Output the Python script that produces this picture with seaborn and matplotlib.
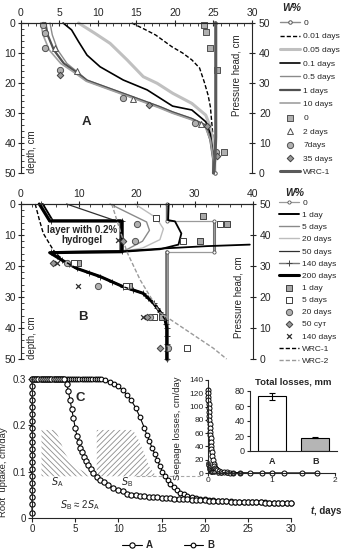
import matplotlib
matplotlib.use('Agg')
import matplotlib.pyplot as plt
import seaborn as sns
from matplotlib.ticker import MultipleLocator

sns.set_style('ticks')
plt.rcParams['font.family'] = ['Liberation Sans', 'DejaVu Sans']
plt.rcParams['font.size'] = 7
plt.rcParams['axes.linewidth'] = 0.8
plt.rcParams['hatch.linewidth'] = 0.6
plt.rcParams['legend.numpoints'] = 1
plt.rcParams['legend.scatterpoints'] = 1

# ---------------- Panel A data (W%, depth cm) ----------------
A_init_W = [25.2, 25.2]; A_init_d = [0, 50]
A_001_W = [14.4, 16.0, 17.5, 19.6, 21.0, 22.2, 23.2, 23.8, 24.3, 24.6, 24.9, 25.0, 25.0]
A_001_d = [0, 2, 4, 7.9, 10, 12.3, 15, 19.6, 24, 27.9, 36.7, 42, 50]
A_005_W = [7.5, 9.6, 11.6, 13.8, 15.9, 17.7, 19.7, 22.2, 24.0, 24.5, 25.0, 25.0]
A_005_d = [0, 3.4, 6.8, 12.3, 17.9, 20.1, 23.4, 26.8, 30.7, 34, 40, 50]
A_01_W = [5.5, 6.6, 7.5, 8.6, 10.3, 13.3, 16.4, 19.7, 22.2, 24.0, 24.6, 25.0, 25.0]
A_01_d = [0, 2.3, 6.2, 10.7, 14.6, 19, 22.3, 27.7, 29, 32.9, 37, 45, 50]
A_05_W = [3.8, 4.1, 4.8, 6.0, 7.3, 8.6, 11.6, 14.6, 18.1, 19.7, 22.2, 24, 24.6, 25, 25]
A_05_d = [0, 4, 9, 13.5, 16.2, 19, 21.8, 24.6, 27.9, 29.6, 31.8, 34, 39, 46, 50]
A_1_W = [3.2, 3.5, 4.3, 5.6, 7.2, 8.6, 11.6, 14.6, 18.1, 19.7, 22.2, 24, 24.6, 25, 25]
A_1_d = [0, 4, 9, 13.5, 16.4, 19.2, 22, 24.8, 28.1, 29.8, 32, 34.2, 39, 46, 50]
A_10_W = [2.6, 2.9, 3.7, 5.2, 7.0, 8.5, 11.5, 14.5, 18, 19.6, 22.1, 23.9, 24.6, 25, 25]
A_10_d = [0, 4, 9, 13.5, 16.6, 19.4, 22.2, 25, 28.3, 30, 32.2, 34.4, 39, 46, 50]
A_wrc_W = [25.3, 25.3, 25.2, 25.0]; A_wrc_h = [50, 12, 5, 0]
A_sq_W = [23.8, 24.0, 24.5, 25.4, 26.4]; A_sq_d = [0.7, 3.1, 8.2, 15.7, 43.1]
A_tri_W = [4.5, 7.3, 14.6, 23.4]; A_tri_d = [8.4, 15.9, 25.4, 33.7]
A_cir_W = [2.9, 3.2, 3.1, 5.1, 13.3, 22.6, 25.3]; A_cir_d = [0.7, 3.4, 8.4, 15.7, 25.1, 33.2, 42.9]
A_dia_W = [5.1, 16.6, 24.1, 25.5]; A_dia_d = [17.4, 27.3, 34.3, 44.2]

# ---------------- Panel B data ----------------
B_init_W = [25.2, 25.2, 33.3, 33.3, 25.2, 25.2]; B_init_d = [0, 5.5, 5.5, 15.4, 15.4, 50]
B_low_W = [7.1, 9.7, 13.7, 17.7, 21.1, 22.9, 24.0, 24.9, 25.2, 25.2]
B_low_d = [18.1, 20.8, 23.4, 26.7, 28.8, 32.0, 34.7, 37.4, 40, 50]
B_1_W = [3.8, 5.5, 17.2, 17.2, 5.3] + B_low_W
B_1_d = [0, 5.3, 5.3, 15.2, 15.5] + B_low_d
B_200_W = [3.2, 5.0, 17.5, 17.5, 5.0] + B_low_W
B_200_d = [0, 5.5, 5.5, 15.4, 15.7] + B_low_d
B_140_W = [3.5, 5.2, 17.4, 17.4, 5.2, 6.2, 7.1, 8.4, 9.7, 11.7, 13.7, 15.7, 17.7, 19.4, 21.1, 22.0,
           22.9, 23.5, 24.0, 24.5, 24.9, 25.1, 25.2, 25.2, 25.2, 25.2, 25.2]
B_140_d = [0, 5.4, 5.4, 15.3, 15.6, 16.8, 18.1, 19.5, 20.8, 22.1, 23.4, 25.0, 26.7, 27.8, 28.8, 30.4,
           32.0, 33.4, 34.7, 36.0, 37.4, 38.7, 40, 42.5, 45, 47.5, 50]
B_5_W = [15.4, 21.7, 22.2, 21.0, 18.5, 17.5]; B_5_d = [0, 5.8, 8.5, 12, 14.5, 15.3]
B_20_W = [19.7, 23.4, 24.6, 24.0, 21.0, 17.5]; B_20_d = [0, 4.5, 8.0, 11.5, 14.2, 15.3]
B_50_W = [7.9, 16.5, 17.3, 17.3]; B_50_d = [0, 5.5, 6, 15]
B_bulge_W = [25.5, 25.4, 26.6, 27.7, 27.2, 24.0, 17.7]; B_bulge_d = [0, 5.2, 5.6, 9.5, 13.1, 14.6, 15.4]
B_base_W = [17.1, 25.0, 32.0, 39.5]; B_base_d = [15.3, 14.3, 13.6, 13.1]
B_wrc1_W = [2.5, 3.2, 3.9, 5.6, 7.2, 9.7, 13.7, 17.7, 21.1, 22.9, 24.0, 24.9, 25.2, 25.2]
B_wrc1_h = [50, 45, 40.5, 35.2, 31.9, 29.2, 26.6, 23.3, 21.2, 18.0, 15.3, 12.6, 10, 0]
B_wrc2_W = [15.7, 18.3, 20.6, 24.0, 28.0, 33.2, 35.5]
B_wrc2_h = [50, 34.6, 25.5, 15.0, 10.0, 3.5, 0]
B_sqf_W = [31.4, 35.5, 30.9, 9.8, 18.7, 24.3]; B_sqf_d = [4, 6.5, 11.8, 19.1, 26.3, 36.3]
B_sqo_W = [23.4, 34.4, 28.0, 9.2, 18.2, 22.9, 28.6]; B_sqo_d = [4.5, 6.5, 11.8, 19.1, 26.3, 36.3, 46.5]
B_cir_W = [20.0, 19.7, 7.9, 13.4, 22.3, 25.4]; B_cir_d = [6.5, 11.8, 19.1, 26.3, 36.3, 46.5]
B_dia_W = [17.7, 5.6, 21.7, 24.0]; B_dia_d = [11.8, 19.1, 36.3, 46.5]
B_x_W = [16.8, 6.2, 9.9, 21.1]; B_x_d = [11.5, 19.1, 26.3, 36.3]

# ---------------- Panel C data ----------------
upA_t = [0, 0, 0, 0, 0, 0, 0, 0, 0, 0, 0, 0, 0, 0, 0, 0, 0, 0, 0, 0,
         0.25, 0.5, 0.75, 1.0, 1.25, 1.5, 1.75, 2.0, 2.25, 2.5, 2.75, 3.0, 3.25, 3.5, 3.75,
         4.0, 4.2, 4.4, 4.6, 4.8, 5.0, 5.2, 5.4, 5.6, 5.8, 6.0, 6.2, 6.5, 6.8, 7.1, 7.5, 7.9, 8.3,
         8.8, 9.4, 10.0, 10.5, 11.0, 11.5, 12.0, 12.5, 13.0, 13.5, 14.0, 14.5, 15.0, 15.5, 16.0,
         16.5, 17.0, 17.5, 18.0, 18.5, 19.0, 19.5, 20.0, 20.5, 21.0, 21.5, 22.0, 22.5, 23.0, 23.5,
         24.0, 24.5, 25.0, 25.5, 26.0, 26.5, 27.0, 27.5, 28.0, 28.5, 29.0, 29.5, 30.0]
upA_u = [0.01, 0.03, 0.045, 0.06, 0.075, 0.09, 0.105, 0.12, 0.135, 0.15, 0.165, 0.18, 0.195, 0.21,
         0.225, 0.24, 0.255, 0.27, 0.285, 0.3,
         0.3, 0.3, 0.3, 0.3, 0.3, 0.3, 0.3, 0.3, 0.3, 0.3, 0.3, 0.3, 0.3, 0.3, 0.3,
         0.29, 0.275, 0.255, 0.235, 0.215, 0.195, 0.178, 0.163, 0.152, 0.142, 0.132, 0.124, 0.115,
         0.105, 0.097, 0.089, 0.083, 0.077, 0.071, 0.065, 0.061, 0.058, 0.052, 0.050, 0.049, 0.048,
         0.047, 0.046, 0.045, 0.0445, 0.044, 0.0435, 0.043, 0.042, 0.041, 0.0405, 0.040, 0.0395,
         0.039, 0.0385, 0.038, 0.0375, 0.037, 0.0365, 0.036, 0.0358, 0.0355, 0.0352, 0.035, 0.0347,
         0.0343, 0.034, 0.0337, 0.0335, 0.0333, 0.033, 0.0327, 0.0325, 0.0322, 0.032, 0.032]
upB_t = [0, 0.25, 0.5, 0.75, 1.0, 1.25, 1.5, 1.75, 2.0, 2.25, 2.5, 2.75, 3.0, 3.25, 3.5, 3.75, 4.0,
         4.25, 4.5, 4.75, 5.0, 5.25, 5.5, 5.75, 6.0, 6.25, 6.5, 6.75, 7.0, 7.25, 7.5, 7.75, 8.0,
         8.5, 9.0, 9.5, 10.0, 10.5, 11.0, 11.5, 12.0, 12.5, 13.0, 13.3, 13.6, 13.9, 14.2, 14.5,
         14.8, 15.1, 15.4, 15.7, 16.0, 16.4, 16.8, 17.2, 17.6, 18.0, 18.5, 19.0, 19.5, 20.0, 20.5,
         21.0, 21.5, 22.0, 22.5, 23.0, 23.5, 24.0, 24.5, 25.0, 25.5, 26.0, 26.5, 27.0, 27.5, 28.0,
         28.5, 29.0, 29.5, 30.0]
upB_u = [0.3, 0.3, 0.3, 0.3, 0.3, 0.3, 0.3, 0.3, 0.3, 0.3, 0.3, 0.3, 0.3, 0.3, 0.3, 0.3, 0.3,
         0.3, 0.3, 0.3, 0.3, 0.3, 0.3, 0.3, 0.3, 0.3, 0.3, 0.3, 0.3, 0.3, 0.3, 0.3, 0.299,
         0.297, 0.294, 0.29, 0.284, 0.276, 0.266, 0.254, 0.238, 0.218, 0.195, 0.18, 0.166, 0.152,
         0.139, 0.126, 0.113, 0.1, 0.09, 0.081, 0.074, 0.066, 0.06, 0.055, 0.051, 0.048, 0.045,
         0.043, 0.041, 0.040, 0.039, 0.038, 0.0375, 0.037, 0.0365, 0.036, 0.0355, 0.035, 0.0347,
         0.0345, 0.0342, 0.034, 0.0337, 0.0335, 0.0332, 0.033, 0.033, 0.0325, 0.0322, 0.032]
SA_t = [1.1, 2.7, 3.2, 3.8, 4.5, 5.5, 7.1]
SA_top = [0.19, 0.19, 0.17, 0.14, 0.12, 0.105, 0.09]
SB_t = [7.5, 11.7, 12.3, 13.0, 13.6, 14.4]
SB_top = [0.19, 0.19, 0.17, 0.14, 0.11, 0.09]
S_base = 0.09
S_dash_t = [12.0, 19.5]

seepA_t = [0, 0.002, 0.004, 0.006, 0.008, 0.01, 0.013, 0.016, 0.02, 0.024, 0.028, 0.032, 0.036, 0.04,
           0.045, 0.05, 0.055, 0.06, 0.07, 0.08, 0.09, 0.1, 0.11, 0.12, 0.14, 0.17, 0.2, 0.25, 0.3,
           0.35, 0.4, 0.5, 0.66, 0.85, 1.0, 1.19, 1.48, 1.71]
seepA_v = [125, 120, 115, 110, 104, 98, 92, 86, 80, 74, 68, 62, 57, 52, 46, 41, 36, 32, 25, 19, 14,
           11, 8, 6.5, 4.5, 3, 2, 1.2, 0.9, 0.7, 0.5, 0.4, 0.3, 0.2, 0.2, 0.1, 0.1, 0.1]
seepB_t = [0, 0.005, 0.01, 0.02, 0.03, 0.04, 0.05, 0.07, 0.1, 0.15, 0.2, 0.3, 0.4, 0.5]
seepB_v = [15, 12, 9, 6, 4, 3, 2.2, 1.5, 1, 0.6, 0.4, 0.2, 0.1, 0.1]

bar_cats = ['A', 'B']
bar_vals = [73, 18]
bar_err = [5, 1]

# ---------------- figure ----------------
FW, FH = 344, 550
fig = plt.figure(figsize=(3.44, 5.5), dpi=100)


def box(x0, y0, x1, y1):
    return [x0 / FW, 1 - y1 / FH, (x1 - x0) / FW, (y1 - y0) / FH]


def line(ax, x, y, **kw):
    sns.lineplot(x=x, y=y, sort=False, estimator=None, ax=ax, **kw)
    ln = ax.lines[-1]
    ln.set_clip_on(False)
    return ln


def pts(ax, x, y, **kw):
    sns.scatterplot(x=x, y=y, ax=ax, **kw)
    c = ax.collections[-1]
    c.set_clip_on(False)
    return c


def style_profile(ax, ax2, xmax, xmaj, xmin):
    ax.set_xlim(0, xmax)
    ax.set_ylim(50, 0)
    ax2.set_ylim(0, 50)
    ax.xaxis.tick_top()
    ax.xaxis.set_major_locator(MultipleLocator(xmaj))
    ax.xaxis.set_minor_locator(MultipleLocator(xmin))
    ax.yaxis.set_major_locator(MultipleLocator(10))
    ax.yaxis.set_minor_locator(MultipleLocator(2))
    ax2.yaxis.set_major_locator(MultipleLocator(10))
    for a in (ax, ax2):
        a.spines['bottom'].set_visible(False)
        a.set_xlabel('')
        a.set_ylabel('')
    ax.spines['right'].set_visible(False)
    ax2.spines['left'].set_visible(False)
    ax.tick_params(axis='both', which='major', direction='inout', length=4, width=0.8, labelsize=7.5, pad=1.5)
    ax.tick_params(axis='both', which='minor', direction='in', length=2, width=0.6)
    ax2.tick_params(axis='y', which='major', direction='inout', length=4, width=0.8, labelsize=7.5, pad=3)
    ax.set_facecolor('none')


# ---------------- Panel A ----------------
axA = fig.add_axes(box(20.7, 23, 252, 173))
axA2 = axA.twinx()
hA = []
hA.append(line(axA, A_init_W, A_init_d, color='#8c8c8c', linewidth=1.0, marker='o', markersize=2.5,
               markerfacecolor='white', markeredgecolor='#555555', markeredgewidth=0.7))
hA.append(line(axA, A_001_W, A_001_d, color='black', linewidth=1.0, linestyle=(0, (3, 1.5))))
hA.append(line(axA, A_005_W, A_005_d, color='#c0c0c0', linewidth=2.2))
hA.append(line(axA, A_01_W, A_01_d, color='black', linewidth=1.2))
hA.append(line(axA, A_05_W, A_05_d, color='#8a8a8a', linewidth=1.0))
hA.append(line(axA, A_1_W, A_1_d, color='#505050', linewidth=1.6))
hA.append(line(axA, A_10_W, A_10_d, color='#a0a0a0', linewidth=1.2))
hA.append(pts(axA, A_sq_W, A_sq_d, marker='s', s=22, color='#b0b0b0', edgecolor='#505050', linewidth=0.7, zorder=5))
hA.append(pts(axA, A_tri_W, A_tri_d, marker='^', s=18, color='white', edgecolor='#505050', linewidth=0.7, zorder=5))
hA.append(pts(axA, A_cir_W, A_cir_d, marker='o', s=20, color='#b0b0b0', edgecolor='#505050', linewidth=0.7, zorder=5))
hA.append(pts(axA, A_dia_W, A_dia_d, marker='D', s=11, color='#9a9a9a', edgecolor='#404040', linewidth=0.7, zorder=5))
hA.append(line(axA2, A_wrc_W, A_wrc_h, color='#5a5a5a', linewidth=2.2))
style_profile(axA, axA2, 30, 5, 1)
axA.text(8.5, 33, 'A', fontsize=9.5, fontweight='bold', ha='center', va='center')
axA.text(0.047, 0.0, 'depth, cm', transform=axA.transAxes, rotation=90, ha='center', va='bottom', fontsize=7)
axA.text(0.935, 0.653, 'Pressure head, cm', transform=axA.transAxes, rotation=90, ha='center', va='center', fontsize=7)
labA = ['0', '0.01 days', '0.05 days', '0.1 days', '0.5 days', '1 days', '10 days',
        '0', '2 days', '7days', '35 days', 'WRC-1']
fig.legend(hA, labA, loc='upper left', bbox_to_anchor=(280 / FW, 1 - 19 / FH), frameon=False,
           fontsize=6, handlelength=2.4, handletextpad=0.4, labelspacing=0.69, borderpad=0, borderaxespad=0)
fig.text(282 / FW, 1 - 8 / FH, 'W%', fontsize=7.5, fontweight='bold', style='italic', ha='left', va='center')

# ---------------- Panel B ----------------
axB = fig.add_axes(box(20.7, 204, 252.7, 359))
axB2 = axB.twinx()
line(axB, [25.2, 25.2], [0, 5.3], color='#6a6a6a', linewidth=2.4)
line(axB, [25.2, 25.2], [15.5, 50], color='#6a6a6a', linewidth=2.6)
line(axB, [33.3, 33.3], [5.5, 15.4], color='#6a6a6a', linewidth=2.2)
hB = []
hB.append(line(axB, B_init_W, B_init_d, color='#9a9a9a', linewidth=0.9, marker='o', markersize=2.3,
               markerfacecolor='white', markeredgecolor='#555555', markeredgewidth=0.6))
hB.append(line(axB, B_1_W, B_1_d, color='black', linewidth=1.4))
hB.append(line(axB, B_5_W, B_5_d, color='#8a8a8a', linewidth=1.0))
hB.append(line(axB, B_20_W, B_20_d, color='#bdbdbd', linewidth=1.0))
hB.append(line(axB, B_50_W, B_50_d, color='#303030', linewidth=0.9))
hB.append(line(axB, B_140_W, B_140_d, color='#777777', linewidth=1.0, marker='+', markersize=4,
               markeredgecolor='#444444', markeredgewidth=0.7))
hB.append(line(axB, B_200_W, B_200_d, color='black', linewidth=2.2))
line(axB, B_bulge_W, B_bulge_d, color='black', linewidth=1.3)
line(axB, B_base_W, B_base_d, color='black', linewidth=1.3)
hB.append(pts(axB, B_sqf_W, B_sqf_d, marker='s', s=18, color='#a8a8a8', edgecolor='#404040', linewidth=0.7, zorder=5))
hB.append(pts(axB, B_sqo_W, B_sqo_d, marker='s', s=18, color='white', edgecolor='#404040', linewidth=0.7, zorder=5))
hB.append(pts(axB, B_cir_W, B_cir_d, marker='o', s=20, color='#b0b0b0', edgecolor='#505050', linewidth=0.7, zorder=5))
hB.append(pts(axB, B_dia_W, B_dia_d, marker='D', s=11, color='#9a9a9a', edgecolor='#404040', linewidth=0.7, zorder=5))
hB.append(pts(axB, B_x_W, B_x_d, marker='x', s=12, color='#303030', linewidth=0.9, zorder=5))
hB.append(line(axB2, B_wrc1_W, B_wrc1_h, color='black', linewidth=1.0, linestyle=(0, (3, 1.5))))
hB.append(line(axB2, B_wrc2_W, B_wrc2_h, color='#9a9a9a', linewidth=1.0, linestyle=(0, (3, 1.5))))
style_profile(axB, axB2, 40, 10, 2)
axB.text(10.6, 10, 'layer with 0.2%\nhydrogel', fontsize=7, fontweight='bold', ha='center', va='center',
         linespacing=1.1, zorder=6)
axB.text(10.8, 36.3, 'B', fontsize=9.5, fontweight='bold', ha='center', va='center')
axB.text(0.047, 0.0, 'depth, cm', transform=axB.transAxes, rotation=90, ha='center', va='bottom', fontsize=7)
axB.text(0.94, 0.40, 'Pressure head, cm', transform=axB.transAxes, rotation=90, ha='center', va='center', fontsize=7)
labB = ['0', '1 day', '5 days', '20 days', '50 days', '140 days', '200 days',
        '1 day', '5 days', '20 days', '50 сут', '140 days', 'WRC-1', 'WRC-2']
fig.legend(hB, labB, loc='upper left', bbox_to_anchor=(279 / FW, 1 - 199 / FH), frameon=False,
           fontsize=6, handlelength=2.4, handletextpad=0.4, labelspacing=0.52, borderpad=0, borderaxespad=0)
fig.text(285 / FW, 1 - 193 / FH, 'W%', fontsize=7.5, fontweight='bold', style='italic', ha='left', va='center')

# ---------------- Panel C ----------------
axC = fig.add_axes(box(32, 379, 291, 518))
axC.fill_between(SA_t, [S_base] * len(SA_t), SA_top, facecolor='none', edgecolor='#8c8c8c',
                 hatch='\\\\\\\\\\\\', linewidth=0)
axC.fill_between(SB_t, [S_base] * len(SB_t), SB_top, facecolor='none', edgecolor='#8c8c8c',
                 hatch='//////', linewidth=0)
line(axC, S_dash_t, [S_base, S_base], color='#a8a8a8', linewidth=0.8, linestyle=(0, (3, 2)))
lB = line(axC, upB_t, upB_u, color='black', linewidth=0.8, marker='o', markersize=3.4,
          markerfacecolor='white', markeredgecolor='black', markeredgewidth=0.8)
lA = line(axC, upA_t, upA_u, color='black', linewidth=0.8, marker='o', markersize=3.8,
          markerfacecolor='white', markeredgecolor='black', markeredgewidth=0.8)
axC.set_xlim(0, 30)
axC.set_ylim(0, 0.3)
axC.set_xticks([0, 5, 10, 15, 20, 25, 30])
axC.set_yticks([0, 0.1, 0.2, 0.3])
axC.set_yticklabels(['0', '0.1', '0.2', '0.3'])
axC.spines['top'].set_visible(False)
axC.spines['right'].set_visible(False)
axC.tick_params(axis='both', direction='out', length=3, width=0.8, labelsize=7, pad=1.5)
axC.set_xlabel('')
axC.set_ylabel('Root  uptake, cm/day', fontsize=6.8)
axC.yaxis.set_label_coords(-0.0927, 0.33)
axC.set_facecolor('none')
axC.text(5.6, 0.259, 'C', fontsize=9.5, fontweight='bold', ha='center', va='center')
axC.text(2.9, 0.078, '$S_\\mathregular{A}$', fontsize=7, ha='center', va='center')
axC.text(11.0, 0.078, '$S_\\mathregular{B}$', fontsize=7, ha='center', va='center')
axC.text(5.6, 0.028, '$S_\\mathregular{B}$ ≈ 2$S_\\mathregular{A}$', fontsize=7, ha='center', va='center')
fig.legend([lA, lB], ['A', 'B'], loc='center', bbox_to_anchor=(168 / FW, 1 - 545 / FH), ncol=2,
           frameon=False, prop={'weight': 'bold', 'size': 7}, handlelength=2.0,
           handletextpad=0.4, columnspacing=3.2, borderpad=0)
fig.text(311 / FW, 1 - 511 / FH, 't', fontsize=7, fontweight='bold', style='italic', ha='left', va='center')
fig.text(314 / FW, 1 - 511 / FH, ', days', fontsize=7, fontweight='bold', ha='left', va='center')

# ---------------- Inset: seepage ----------------
axS = fig.add_axes(box(208, 380, 335, 473))
line(axS, seepA_t, seepA_v, color='black', linewidth=0.8, marker='o', markersize=3.6,
     markerfacecolor='white', markeredgecolor='black', markeredgewidth=0.7)
line(axS, seepB_t, seepB_v, color='black', linewidth=0.8, marker='o', markersize=2.6,
     markerfacecolor='#999999', markeredgecolor='black', markeredgewidth=0.6)
axS.set_xlim(0, 2)
axS.set_ylim(0, 140)
axS.set_xticks([0, 1, 2])
axS.set_yticks([0, 20, 40, 60, 80, 100, 120, 140])
axS.spines['top'].set_visible(False)
axS.spines['right'].set_visible(False)
axS.tick_params(axis='both', direction='out', length=2, width=0.8, labelsize=6, pad=1)
axS.set_xlabel('')
axS.set_ylabel('Seepage losses, cm/day', fontsize=6.8)
axS.yaxis.set_label_coords(-0.205, 0.48)
axS.set_facecolor('none')

# ---------------- Inset: total losses ----------------
axT = fig.add_axes(box(250, 391, 337, 451))
sns.barplot(x=bar_cats, y=bar_vals, hue=bar_cats, palette=['white', '#b5b5b5'], edgecolor='black',
            linewidth=0.8, width=0.64, errorbar=None, legend=False, ax=axT)
axT.errorbar([0, 1], bar_vals, yerr=bar_err, fmt='none', ecolor='black', elinewidth=0.8, capsize=2,
             capthick=0.8)
axT.set_xlim(-0.5, 1.5)
axT.set_ylim(0, 80)
axT.set_yticks([0, 20, 40, 60, 80])
axT.spines['top'].set_visible(False)
axT.spines['right'].set_visible(False)
axT.tick_params(axis='y', direction='out', length=2.5, width=0.8, labelsize=6.5, pad=1.5)
axT.tick_params(axis='x', length=0, labelsize=6.5, pad=4)
for t in axT.get_xticklabels():
    t.set_fontweight('bold')
axT.set_xlabel('')
axT.set_ylabel('')
axT.set_title('Total losses, mm', fontsize=6.8, fontweight='bold', pad=5)

fig.savefig('out.png', dpi=100)
